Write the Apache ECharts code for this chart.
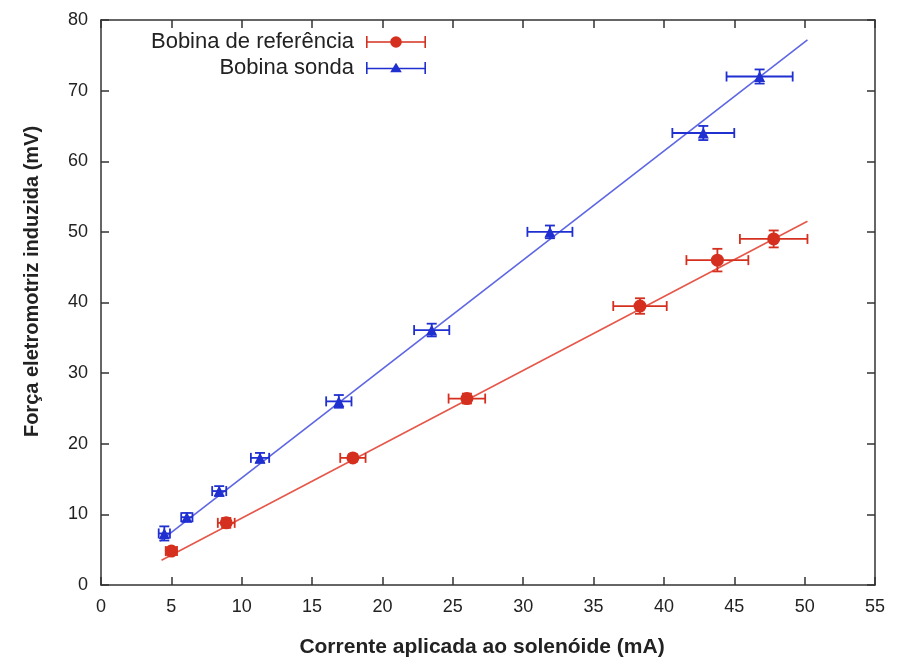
<!DOCTYPE html>
<html>
<head>
<meta charset="utf-8">
<script src="https://cdn.jsdelivr.net/npm/echarts@6/dist/echarts.min.js"></script>
<style>
  html, body { margin: 0; padding: 0; background: #fff; }
  #chart { width: 904px; height: 661px; }
</style>
</head>
<body>
<div id="chart"></div>
<script>
// Bobina de referência
var refX = [5.0, 8.9, 17.9, 26.0, 38.3, 43.8, 47.8];
var refY = [4.8, 8.8, 18.0, 26.4, 39.5, 46.0, 49.0];
var refXErr = [0.4, 0.6, 0.9, 1.3, 1.9, 2.2, 2.4];
var refYErr = [0.5, 0.7, 0.5, 0.7, 1.1, 1.6, 1.2];
var refFit = [[4.3, 3.5], [50.2, 51.5]];

// Bobina sonda
var sondaX = [4.5, 6.1, 8.4, 11.3, 16.9, 23.5, 31.9, 42.8, 46.8];
var sondaY = [7.3, 9.6, 13.3, 18.0, 26.0, 36.1, 50.0, 64.0, 72.0];
var sondaXErr = [0.4, 0.4, 0.5, 0.65, 0.9, 1.25, 1.6, 2.2, 2.35];
var sondaYErr = [1.0, 0.6, 0.7, 0.7, 0.9, 0.9, 0.9, 1.0, 1.0];
var sondaFit = [[4.2, 6.2], [50.2, 77.2]];

var xTicks = [0, 5, 10, 15, 20, 25, 30, 35, 40, 45, 50, 55];
var yTicks = [0, 10, 20, 30, 40, 50, 60, 70, 80];

var RED = '#d5301f', RED_LINE = '#e6574a';
var BLUE = '#1f2fd0', BLUE_LINE = '#5d66e4';
var FONT = '"Liberation Sans", Arial, Helvetica, sans-serif';

// icones da legenda (barra de erro com marcador)
var iconCirc = 'path://M0,0H1.6V12H0Z M58.4,0H60V12H58.4Z M0,5.2H60V6.8H0Z M35.8,6A5.8,5.8,0,1,1,24.2,6A5.8,5.8,0,1,1,35.8,6Z';
var iconTri = 'path://M0,0H1.6V12H0Z M58.4,0H60V12H58.4Z M0,5.7H60V7.3H0Z M30,0.8L35.8,10.2H24.2Z';

function pts(xs, ys){
	return xs.map(function(x, i){ return [x, ys[i]]; });
}
function errData(xs, ys, ex, ey){
	return xs.map(function(x, i){ return [x, ys[i], ex[i], ey[i]]; });
}

// desenha barras de erro em x e y
function renderErr(params, api){
	var x = api.value(0), y = api.value(1), ex = api.value(2), ey = api.value(3);
	var l = api.coord([x - ex, y]), r = api.coord([x + ex, y]);
	var b = api.coord([x, y - ey]), t = api.coord([x, y + ey]);
	var cap = 5;
	var st = { stroke: api.visual('color'), lineWidth: 1.8, fill: null };
	function ln(x1, y1, x2, y2){
		return { type: 'line', shape: { x1: x1, y1: y1, x2: x2, y2: y2 }, style: st };
	}
	return {
		type: 'group',
		children: [
			ln(l[0], l[1], r[0], r[1]),
			ln(l[0], l[1] - cap, l[0], l[1] + cap),
			ln(r[0], r[1] - cap, r[0], r[1] + cap),
			ln(b[0], b[1], t[0], t[1]),
			ln(b[0] - cap, b[1], b[0] + cap, b[1]),
			ln(t[0] - cap, t[1], t[0] + cap, t[1])
		]
	};
}

function axisX(pos){
	var bottom = pos === 'bottom';
	return {
		type: 'value', position: pos, min: 0, max: 55, interval: 5,
		axisLine: { show: true, onZero: false, lineStyle: { color: '#333', width: 1.5 } },
		axisTick: { show: true, inside: true, length: 8, lineStyle: { color: '#333', width: 1.5 } },
		axisLabel: { show: bottom, fontSize: 18, color: '#222', fontFamily: FONT, margin: 13,
			formatter: function(v){ return xTicks.indexOf(v) >= 0 ? String(v) : ''; } },
		splitLine: { show: false },
		name: bottom ? 'Corrente aplicada ao solenóide (mA)' : '',
		nameLocation: 'middle', nameGap: 52,
		nameTextStyle: { fontSize: 21, fontWeight: 'bold', color: '#222', fontFamily: FONT,
			padding: [0, 12, 0, 0] }
	};
}
function axisY(pos){
	var left = pos === 'left';
	return {
		type: 'value', position: pos, min: 0, max: 80, interval: 10,
		axisLine: { show: true, onZero: false, lineStyle: { color: '#333', width: 1.5 } },
		axisTick: { show: true, inside: true, length: 8, lineStyle: { color: '#333', width: 1.5 } },
		axisLabel: { show: left, fontSize: 18, color: '#222', fontFamily: FONT, margin: 13,
			formatter: function(v){ return yTicks.indexOf(v) >= 0 ? String(v) : ''; } },
		splitLine: { show: false },
		name: left ? 'Força eletromotriz induzida (mV)' : '',
		nameLocation: 'middle', nameGap: 59,
		nameTextStyle: { fontSize: 20, fontWeight: 'bold', color: '#222', fontFamily: FONT,
			padding: [0, 0, 0, 42] }
	};
}

function legendAt(top, name, icon){
	return {
		right: 478, top: top, padding: 0,
		align: 'right', itemWidth: 60, itemHeight: 12,
		selectedMode: false,
		textStyle: { fontSize: 22, color: '#222', fontFamily: FONT, padding: [0, 7, 0, 0] },
		data: [{ name: name, icon: icon }]
	};
}

var chart = echarts.init(document.getElementById('chart'));
chart.setOption({
	animation: false,
	backgroundColor: '#fff',
	grid: { left: 101, right: 29, top: 20, bottom: 76, outerBoundsMode: 'none' },
	legend: [
		legendAt(31, 'Bobina de referência', iconCirc),
		legendAt(57, 'Bobina sonda', iconTri)
	],
	xAxis: [axisX('bottom'), axisX('top')],
	yAxis: [axisY('left'), axisY('right')],
	series: [
		{ name: 'ajuste ref', type: 'line', data: refFit, showSymbol: false, silent: true,
		  lineStyle: { color: RED_LINE, width: 1.6 }, z: 1 },
		{ name: 'ajuste sonda', type: 'line', data: sondaFit, showSymbol: false, silent: true,
		  lineStyle: { color: BLUE_LINE, width: 1.6 }, z: 1 },
		{ name: 'erro ref', type: 'custom', renderItem: renderErr,
		  data: errData(refX, refY, refXErr, refYErr), encode: { x: 0, y: 1 },
		  itemStyle: { color: RED }, z: 2 },
		{ name: 'erro sonda', type: 'custom', renderItem: renderErr,
		  data: errData(sondaX, sondaY, sondaXErr, sondaYErr), encode: { x: 0, y: 1 },
		  itemStyle: { color: BLUE }, z: 2 },
		{ name: 'Bobina de referência', type: 'scatter', data: pts(refX, refY),
		  symbol: 'circle', symbolSize: 13, itemStyle: { color: RED, opacity: 1 }, z: 3 },
		{ name: 'Bobina sonda', type: 'scatter', data: pts(sondaX, sondaY),
		  symbol: 'triangle', symbolSize: 11, itemStyle: { color: BLUE, opacity: 1 }, z: 3 }
	]
});
</script>
</body>
</html>
